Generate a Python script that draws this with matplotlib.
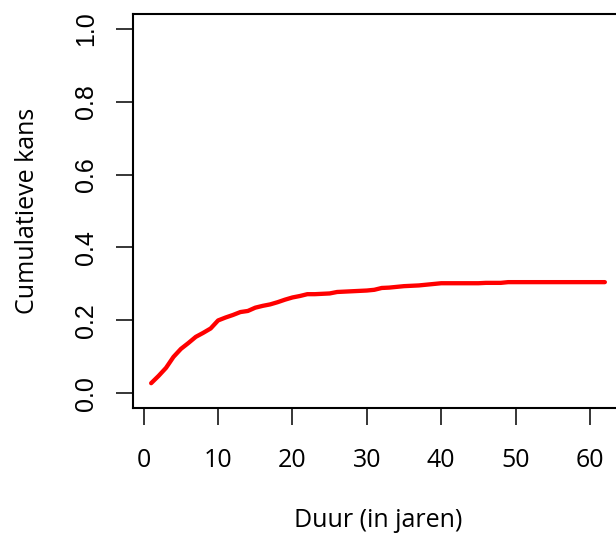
import numpy as np
import matplotlib
matplotlib.use("Agg")
import matplotlib.pyplot as plt

# duration in years vs cumulative probability
jaren = list(range(1, 63))
kans = [0.028, 0.048, 0.070, 0.100, 0.122, 0.138, 0.155, 0.166, 0.178, 0.200,
        0.208, 0.215, 0.223, 0.226, 0.235, 0.240, 0.244, 0.250, 0.257, 0.263,
        0.267, 0.272, 0.272, 0.273, 0.274, 0.278, 0.279, 0.280, 0.281, 0.282,
        0.284, 0.289, 0.290, 0.292, 0.294, 0.295, 0.296, 0.298, 0.300, 0.302,
        0.302, 0.302, 0.302, 0.302, 0.302, 0.303, 0.303, 0.303, 0.305, 0.305,
        0.305, 0.305, 0.305, 0.305, 0.305, 0.305, 0.305, 0.305, 0.305, 0.305,
        0.305, 0.305]
xticks = [0, 10, 20, 30, 40, 50, 60]
yticks = [0.0, 0.2, 0.4, 0.6, 0.8, 1.0]

W, H = 616, 535
fig = plt.figure(figsize=(W/100, H/100), dpi=100)
# plot region in pixels: x 133..623 (cut off at right), y 14..408
ax = fig.add_axes([133/W, 1 - 408/H, 490/W, 394/H])

ax.plot(jaren, kans, color="#ff0000", lw=3.1, solid_capstyle="round")

ax.set_xlim(-1.44, 64.44)
ax.set_ylim(-0.04, 1.04)
ax.set_xticks(xticks)
ax.set_yticks(yticks)
ax.set_xticklabels([str(v) for v in xticks], family="Open Sans", fontsize=18)
ax.set_yticklabels([f"{v:.1f}" for v in yticks], family="Liberation Sans",
                   fontsize=18, rotation=90, va="center")
ax.tick_params(axis="x", length=12, width=1.1, pad=17)
ax.tick_params(axis="y", length=12, width=1.1, pad=13)
for s in ax.spines.values():
    s.set_linewidth(1.5)

ax.set_xlabel("Duur (in jaren)", family="Open Sans", fontsize=18)
ax.set_ylabel("Cumulatieve kans", family="Open Sans", fontsize=18)
ax.xaxis.set_label_coords(0.5, -0.255)
ax.yaxis.set_label_coords(-0.19, 0.5)

fig.savefig("out.png", dpi=100)
